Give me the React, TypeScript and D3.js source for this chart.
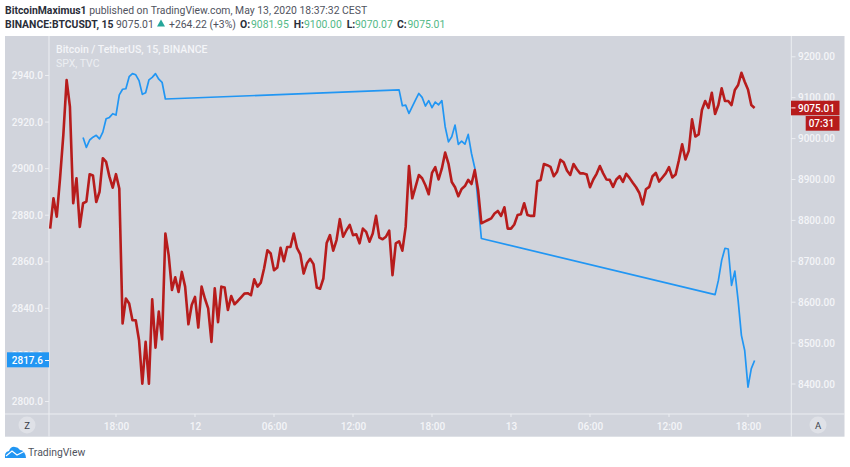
import React from 'react';
import * as d3 from 'd3';

const WIDTH = 850;
const HEIGHT = 467;

// BTCUSDT close, one value per 15 minute bar
const btcValues = [
  8780, 8854, 8809, 8903, 9009, 9143, 9078, 8842, 8903, 8784, 8842, 8846, 8913, 8910, 8845, 8870,
  8952, 8943, 8907, 8880, 8913, 8878, 8548, 8609, 8597, 8556, 8556, 8507, 8401, 8503, 8401, 8607,
  8489, 8577, 8509, 8768, 8715, 8630, 8661, 8625, 8674, 8638, 8546, 8593, 8613, 8538, 8638, 8609,
  8585, 8503, 8634, 8551, 8638, 8636, 8581, 8615, 8595, 8603, 8612, 8621, 8622, 8617, 8656, 8638,
  8648, 8683, 8727, 8719, 8678, 8685, 8733, 8700, 8735, 8735, 8768, 8732, 8717, 8670, 8695, 8706,
  8693, 8636, 8633, 8658, 8745, 8764, 8726, 8752, 8803, 8760, 8776, 8789, 8764, 8766, 8744, 8780,
  8772, 8748, 8768, 8811, 8758, 8754, 8760, 8775, 8666, 8744, 8749, 8726, 8784, 8933, 8854, 8882,
  8911, 8903, 8886, 8864, 8916, 8930, 8900, 8927, 8966, 8939, 8894, 8881, 8859, 8877, 8884, 8899,
  8889, 8923, 8874, 8793, 8797, 8801, 8805, 8817, 8823, 8811, 8832, 8780, 8780, 8790, 8813, 8815,
  8842, 8813, 8811, 8811, 8896, 8899, 8938, 8935, 8931, 8908, 8919, 8948, 8942, 8922, 8911, 8938,
  8925, 8915, 8915, 8912, 8881, 8900, 8914, 8933, 8915, 8900, 8899, 8882, 8900, 8908, 8894, 8914,
  8904, 8892, 8881, 8867, 8839, 8876, 8882, 8908, 8916, 8895, 8905, 8915, 8930, 8905, 8912, 8947,
  8986, 8949, 8970, 9047, 9005, 9010, 9070, 9092, 9075, 9112, 9060, 9082, 9123, 9092, 9092, 9082,
  9119, 9131, 9161, 9139, 9120, 9082, 9075.01,
];

// SPX only trades part of the time, so it has its own bar positions
const spxBars = [
  10, 11, 12, 13, 14, 15, 16, 17, 18, 19, 20, 21, 22, 23, 24, 25, 26, 27, 28, 29, 30, 31, 32, 33, 34, 35,
  106, 107, 108, 109, 110, 111, 112, 113, 114, 115, 116, 117, 118, 119, 120, 121, 122, 123, 124, 125, 126,
  127, 128, 129, 131,
  202, 203, 204, 205, 206, 207, 208, 209, 210, 211, 212, 213, 214,
];
const spxValues = [
  2913.4, 2909.1, 2912.3, 2913.5, 2914.3, 2912.8, 2915.7, 2921.4, 2922, 2923.6, 2923, 2931.7, 2934.1,
  2934.3, 2939.5, 2940.8, 2940.3, 2937.8, 2931.9, 2932.6, 2938.1, 2939.2, 2940.8, 2938.4, 2937.1, 2929.9,
  2933.8, 2927, 2927.3, 2923.7, 2926.6, 2929.5, 2932.3, 2930.6, 2926.9, 2929.2, 2926.2, 2928.6, 2927.4,
  2929.2, 2918, 2911.5, 2913.7, 2918.7, 2910.4, 2911.8, 2910.5, 2914.7, 2906.5, 2900.3, 2870,
  2845.9, 2852, 2860.6, 2865.8, 2865.5, 2849.9, 2856, 2843.4, 2828.4, 2821.9, 2806.2, 2814.1, 2817.6,
];

const leftTicks = [2800, 2820, 2840, 2860, 2880, 2900, 2920, 2940];
const rightTicks = [8400, 8500, 8600, 8700, 8800, 8900, 9000, 9100, 9200];
const timeBars = [20, 44, 68, 92, 116, 140, 164, 188, 212];
const timeLabels = ['18:00', '12', '06:00', '12:00', '18:00', '13', '06:00', '12:00', '18:00'];

const FONT = 'Roboto, sans-serif';
const PANEL = '#d1d4dc';
const AXIS = '#eceef2';
const TICK_TEXT = '#f4f5f8';
const RED = '#b71c1c';
const BLUE = '#2196f3';
const TEAL = '#53b987';
const DARK = '#3a3e4a';
const HEAD = '#2a2e39';
const GREY = '#50535e';
const AXIS_FONT = 10;
const HEAD_FONT = 10.4;

const x = d3.scaleLinear().domain([20, 212]).range([116, 748]);
const yLeft = d3.scaleLinear().domain([2800, 2940]).range([401.5, 75.5]);
const yRight = d3.scaleLinear().domain([8400, 9200]).range([384, 56.8]);

const btcLine = d3
  .line<number>()
  .x((_, i) => x(i))
  .y(d => yRight(d));

const spxLine = d3
  .line<number>()
  .x((_, i) => x(spxBars[i]))
  .y(d => yLeft(d));

const App = () => {
  return (
    <svg
      width={WIDTH}
      height={HEIGHT}
      viewBox={`0 0 ${WIDTH} ${HEIGHT}`}
      style={{ position: 'absolute', left: 0, top: 0, background: '#fff' }}
      fontFamily={FONT}
    >
      {/* header */}
      <text x={5} y={14} fontSize={HEAD_FONT} fill={GREY}>
        <tspan fontWeight={700} fill={HEAD}>BitcoinMaximus1</tspan> published on TradingView.com, May 13, 2020 18:37:32 CEST
      </text>
      <g fontSize={HEAD_FONT} fill={GREY}>
        <text x={5} y={28} fontWeight={700} fill={HEAD}>BINANCE:BTCUSDT, 15</text>
        <text x={116} y={28}>9075.01</text>
        <text x={169} y={28}>+264.22 (+3%)</text>
        <text x={240} y={28} fontWeight={700} fill={HEAD}>O:</text>
        <text x={251} y={28} fill={TEAL}>9081.95</text>
        <text x={293.7} y={28} fontWeight={700} fill={HEAD}>H:</text>
        <text x={304} y={28} fill={TEAL}>9100.00</text>
        <text x={346.7} y={28} fontWeight={700} fill={HEAD}>L:</text>
        <text x={355} y={28} fill={TEAL}>9070.07</text>
        <text x={397} y={28} fontWeight={700} fill={HEAD}>C:</text>
        <text x={407.5} y={28} fill={TEAL}>9075.01</text>
      </g>
      <path d="M157 26.5 L165 26.5 L161 19.5 Z" fill="#26a69a" />

      {/* panel */}
      <rect x={5} y={36} width={839.5} height={400.7} fill={PANEL} />
      <line x1={49} x2={49} y1={36} y2={436.7} stroke={AXIS} strokeWidth={1} />
      <line x1={791.3} x2={791.3} y1={36} y2={436.7} stroke={AXIS} strokeWidth={1} />
      <line x1={5} x2={844.5} y1={414} y2={414} stroke={AXIS} strokeWidth={1} />

      {/* left axis */}
      {leftTicks.map(t => (
        <g key={t}>
          <line x1={45} x2={49} y1={yLeft(t)} y2={yLeft(t)} stroke={AXIS} />
          <text x={43} y={yLeft(t) + 3.6} textAnchor="end" fontSize={AXIS_FONT} fontWeight={500} fill={TICK_TEXT}>
            {t.toFixed(1)}
          </text>
        </g>
      ))}

      {/* right axis */}
      {rightTicks.map(t => (
        <g key={t}>
          <line x1={791.3} x2={795.5} y1={yRight(t)} y2={yRight(t)} stroke={AXIS} />
          <text x={798} y={yRight(t) + 3.6} fontSize={AXIS_FONT} fontWeight={500} fill={TICK_TEXT}>
            {t.toFixed(2)}
          </text>
        </g>
      ))}

      {/* time axis */}
      {timeBars.map((b, i) => (
        <g key={b}>
          <line x1={x(b)} x2={x(b)} y1={414} y2={417} stroke={AXIS} />
          <text x={x(b) + 0.5} y={430} textAnchor="middle" fontSize={AXIS_FONT} fontWeight={500} fill={TICK_TEXT}>
            {timeLabels[i]}
          </text>
        </g>
      ))}

      {/* legend */}
      <text x={56} y={53} fontSize={10.5} fontWeight={500} fill="#f4f5f8">
        Bitcoin / TetherUS, 15, BINANCE
      </text>
      <text x={56} y={67} fontSize={10.5} fill="#eceef2">
        SPX, TVC
      </text>

      {/* series */}
      <path d={spxLine(spxValues) ?? ''} fill="none" stroke={BLUE} strokeWidth={1.7} strokeLinejoin="round" />
      <path d={btcLine(btcValues) ?? ''} fill="none" stroke={RED} strokeWidth={2.6} strokeLinejoin="round" />

      {/* last value tags */}
      <rect x={7} y={352.3} width={42} height={15} fill={BLUE} />
      <line x1={45} x2={49} y1={yLeft(2817.6)} y2={yLeft(2817.6)} stroke="#fff" />
      <text x={43} y={363.6} textAnchor="end" fontSize={AXIS_FONT} fontWeight={500} fill="#fff">2817.6</text>

      <rect x={791} y={100.7} width={48.5} height={14.6} fill={RED} />
      <line x1={791.3} x2={795.5} y1={yRight(9075.01)} y2={yRight(9075.01)} stroke="#fff" />
      <text x={798} y={111.6} fontSize={AXIS_FONT} fontWeight={500} fill="#fff">9075.01</text>
      <rect x={805.7} y={116} width={33.8} height={14.7} fill={RED} />
      <text x={808.7} y={127} fontSize={AXIS_FONT} fontWeight={500} fill="#fff">07:31</text>

      {/* corner buttons */}
      <circle cx={27} cy={425} r={8.5} fill="#dfe1e7" />
      <text x={27} y={428.5} textAnchor="middle" fontSize={9.5} fill={DARK}>Z</text>
      <circle cx={818} cy={425} r={8.5} fill="#dfe1e7" />
      <text x={818} y={428.5} textAnchor="middle" fontSize={9.5} fill={DARK}>A</text>

      {/* TradingView mark */}
      <path
        d="M5 458 Q4 452 9 451 Q11 446 15 447 Q18 447 20 450 Q25 450 26 458 Z"
        fill={BLUE}
      />
      <path d="M6 456 L12 451 L17 455 L24 451.5" fill="none" stroke="#fff" strokeWidth={1.2} />
      <text x={28} y={456} fontSize={10.4} fill={GREY}>TradingView</text>
    </svg>
  );
};

export default App;
